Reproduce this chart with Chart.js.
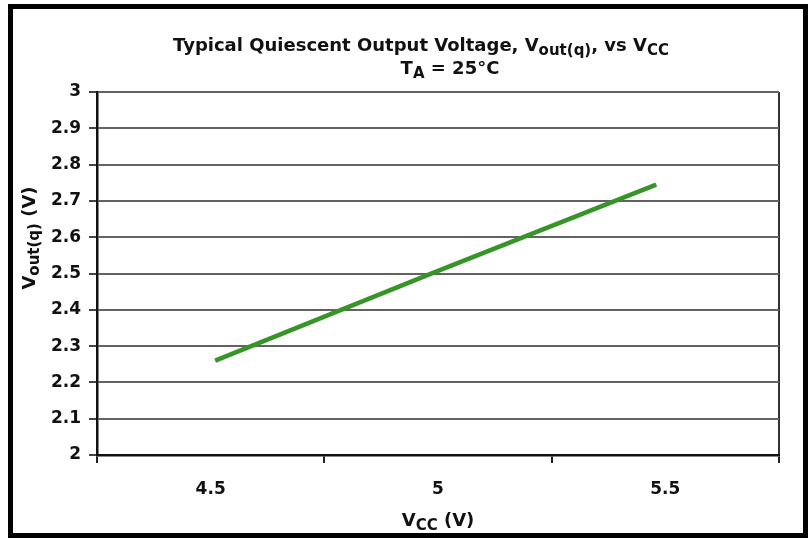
<!DOCTYPE html>
<html>
<head>
<meta charset="utf-8">
<script src="https://cdn.jsdelivr.net/npm/chart.js@4"></script>
<style>
    html, body { margin: 0; padding: 0; background: #fff; }
    #wrap { width: 810px; height: 540px; }
</style>
</head>
<body>
<div id="wrap"><canvas id="chart" width="810" height="540"></canvas></div>
<script>
// values
const vcc = [4.51, 5.0, 5.48];
const voutTyp = [2.26, 2.507, 2.745];
const yTicks = [2, 2.1, 2.2, 2.3, 2.4, 2.5, 2.6, 2.7, 2.8, 2.9, 3];
const xTicks = [4.25, 4.5, 4.75, 5, 5.25, 5.5, 5.75];
const xLabels = ['4.5', '5', '5.5'];

const FONT = '"DejaVu Sans", "Liberation Sans", sans-serif';

// draws a string made of [text, isSubscript] parts, centred on cx
function drawSubText(ctx, parts, cx, y, size, subSize) {
    let total = 0;
    for (let p of parts) {
        ctx.font = 'bold ' + (p[1] ? subSize : size) + 'px ' + FONT;
        total += ctx.measureText(p[0]).width;
    }
    let x = cx - total / 2;
    ctx.textAlign = 'left';
    ctx.textBaseline = 'alphabetic';
    for (let p of parts) {
        ctx.font = 'bold ' + (p[1] ? subSize : size) + 'px ' + FONT;
        ctx.fillText(p[0], x, p[1] ? y + 4 : y);
        x += ctx.measureText(p[0]).width;
    }
}

const decorations = {
    id: 'decorations',
    beforeDraw(chart) {
        const ctx = chart.ctx;
        ctx.save();
        ctx.fillStyle = '#fff';
        ctx.fillRect(0, 0, chart.width, chart.height);
        ctx.restore();
    },
    afterDraw(chart) {
        const ctx = chart.ctx;
        ctx.save();
        ctx.fillStyle = '#111';
        drawSubText(ctx, [['Typical Quiescent Output Voltage, V', false], ['out(q)', true], [', vs V', false], ['CC', true]], 421, 51, 18, 15);
        drawSubText(ctx, [['T', false], ['A', true], [' = 25°C', false]], 450, 74, 18, 15);
        drawSubText(ctx, [['V', false], ['CC', true], [' (V)', false]], 438, 526, 18, 15);

        ctx.translate(35, 238);
        ctx.rotate(-Math.PI / 2);
        drawSubText(ctx, [['V', false], ['out(q)', true], [' (V)', false]], 0, 0, 18, 15);
        ctx.restore();

        // outer frame
        ctx.save();
        ctx.strokeStyle = '#000';
        ctx.lineWidth = 5;
        ctx.strokeRect(10.5, 6.5, 795, 529);
        ctx.restore();
    }
};

new Chart(document.getElementById('chart'), {
    type: 'line',
    data: {
        datasets: [
            {
                label: 'Typ',
                data: vcc.map((v, i) => ({x: v, y: voutTyp[i]})),
                borderColor: '#379429',
                borderWidth: 4.5,
                pointRadius: 0,
                tension: 0
            },
            {
                label: 'Typ core',
                data: vcc.map((v, i) => ({x: v, y: voutTyp[i]})),
                borderColor: 'rgba(35,65,35,0.6)',
                borderWidth: 1.5,
                pointRadius: 0,
                tension: 0
            }
        ]
    },
    options: {
        responsive: false,
        animation: false,
        layout: {padding: {left: 0, top: 92, right: 31, bottom: 0}},
        plugins: {
            legend: {display: false},
            title: {display: false},
            tooltip: {enabled: false}
        },
        scales: {
            x: {
                type: 'linear',
                min: 4.25,
                max: 5.75,
                afterBuildTicks: scale => {
                    scale.ticks = xTicks.map(v => ({value: v}));
                },
                afterFit: scale => {
                    scale.height = 85;
                },
                ticks: {
                    autoSkip: false,
                    maxRotation: 0,
                    padding: 16,
                    color: '#111',
                    font: {family: FONT, size: 17, weight: 'bold'},
                    callback: v => {
                        let idx = [4.5, 5, 5.5].indexOf(v);
                        return idx >= 0 ? xLabels[idx] : '';
                    }
                },
                grid: {
                    drawOnChartArea: true,
                    tickLength: 8,
                    lineWidth: 2,
                    color: c => (c.tick && c.tick.value === 5.75) ? '#333' : 'rgba(0,0,0,0)',
                    tickColor: c => (c.tick && [4.5, 5, 5.5].indexOf(c.tick.value) >= 0) ? 'rgba(0,0,0,0)' : '#222'
                },
                border: {color: '#111', width: 2.5}
            },
            y: {
                min: 2,
                max: 3,
                afterBuildTicks: scale => {
                    scale.ticks = yTicks.map(v => ({value: v}));
                },
                afterFit: scale => {
                    scale.width = 97;
                },
                ticks: {
                    autoSkip: false,
                    padding: 8,
                    color: '#111',
                    font: {family: FONT, size: 17, weight: 'bold'},
                    callback: v => String(Math.round(v * 10) / 10)
                },
                grid: {
                    tickLength: 8,
                    lineWidth: 2,
                    color: '#626262',
                    tickColor: '#444'
                },
                border: {color: '#111', width: 2.5}
            }
        }
    },
    plugins: [decorations]
});
</script>
</body>
</html>
